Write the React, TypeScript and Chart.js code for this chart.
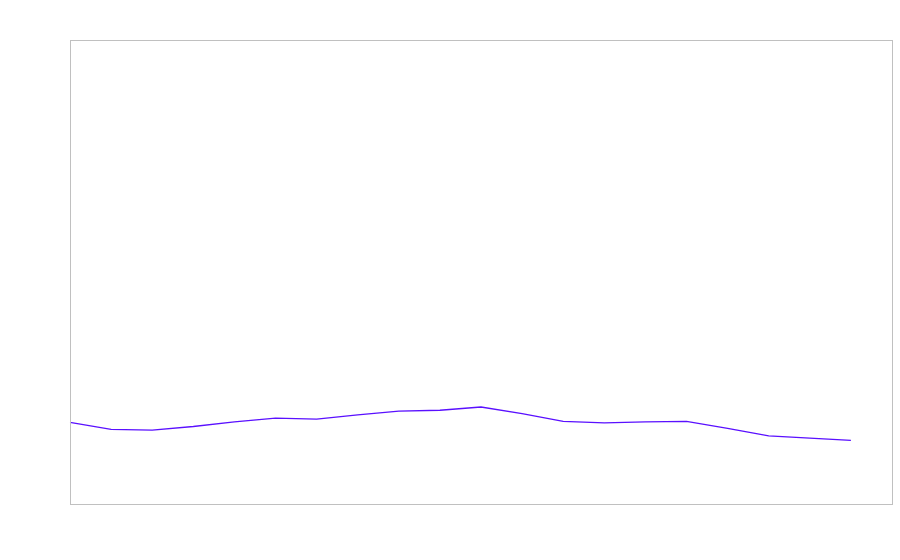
import React, { useEffect, useRef } from "react";
import { Chart, registerables } from "chart.js";

Chart.register(...registerables);

const labels: string[] = [
  "1", "2", "3", "4", "5", "6", "7", "8", "9", "10",
  "11", "12", "13", "14", "15", "16", "17", "18", "19", "20", "21",
];
const values: (number | null)[] = [
  17.6, 16.1, 15.9, 16.7, 17.7, 18.5, 18.3, 19.2, 20.0, 20.2,
  20.9, 19.5, 17.8, 17.5, 17.7, 17.8, 16.3, 14.7, 14.2, 13.7, null,
];
const yMin = 0;
const yMax = 100;

const boxPlugin = {
  id: "boxBorder",
  afterDraw(chart: any) {
    const { ctx, chartArea } = chart;
    ctx.save();
    ctx.strokeStyle = "#c0c0c0";
    ctx.lineWidth = 1;
    ctx.strokeRect(
      Math.round(chartArea.left) + 0.5,
      Math.round(chartArea.top) + 0.5,
      Math.round(chartArea.right - chartArea.left),
      Math.round(chartArea.bottom - chartArea.top)
    );
    ctx.restore();
  },
};

export default function App() {
  const ref = useRef<HTMLCanvasElement | null>(null);
  useEffect(() => {
    if (!ref.current) return;
    const chart = new Chart(ref.current, {
      type: "line",
      data: {
        labels,
        datasets: [
          {
            data: values,
            borderColor: "#5a10ff",
            borderWidth: 1.3,
            pointRadius: 0,
            tension: 0,
            fill: false,
          },
        ],
      },
      options: {
        animation: false,
        responsive: false,
        maintainAspectRatio: false,
        layout: { padding: { left: 70, top: 40, right: 8, bottom: 56 } },
        plugins: { legend: { display: false }, tooltip: { enabled: false } },
        scales: {
          x: { display: false, offset: false },
          y: { display: false, min: yMin, max: yMax },
        },
      },
      plugins: [boxPlugin],
    });
    return () => chart.destroy();
  }, []);
  return (
    <div style={{ position: "absolute", left: 0, top: 0, width: 900, height: 560, background: "#fff" }}>
      <canvas ref={ref} width={900} height={560} style={{ width: 900, height: 560 }} />
    </div>
  );
}
